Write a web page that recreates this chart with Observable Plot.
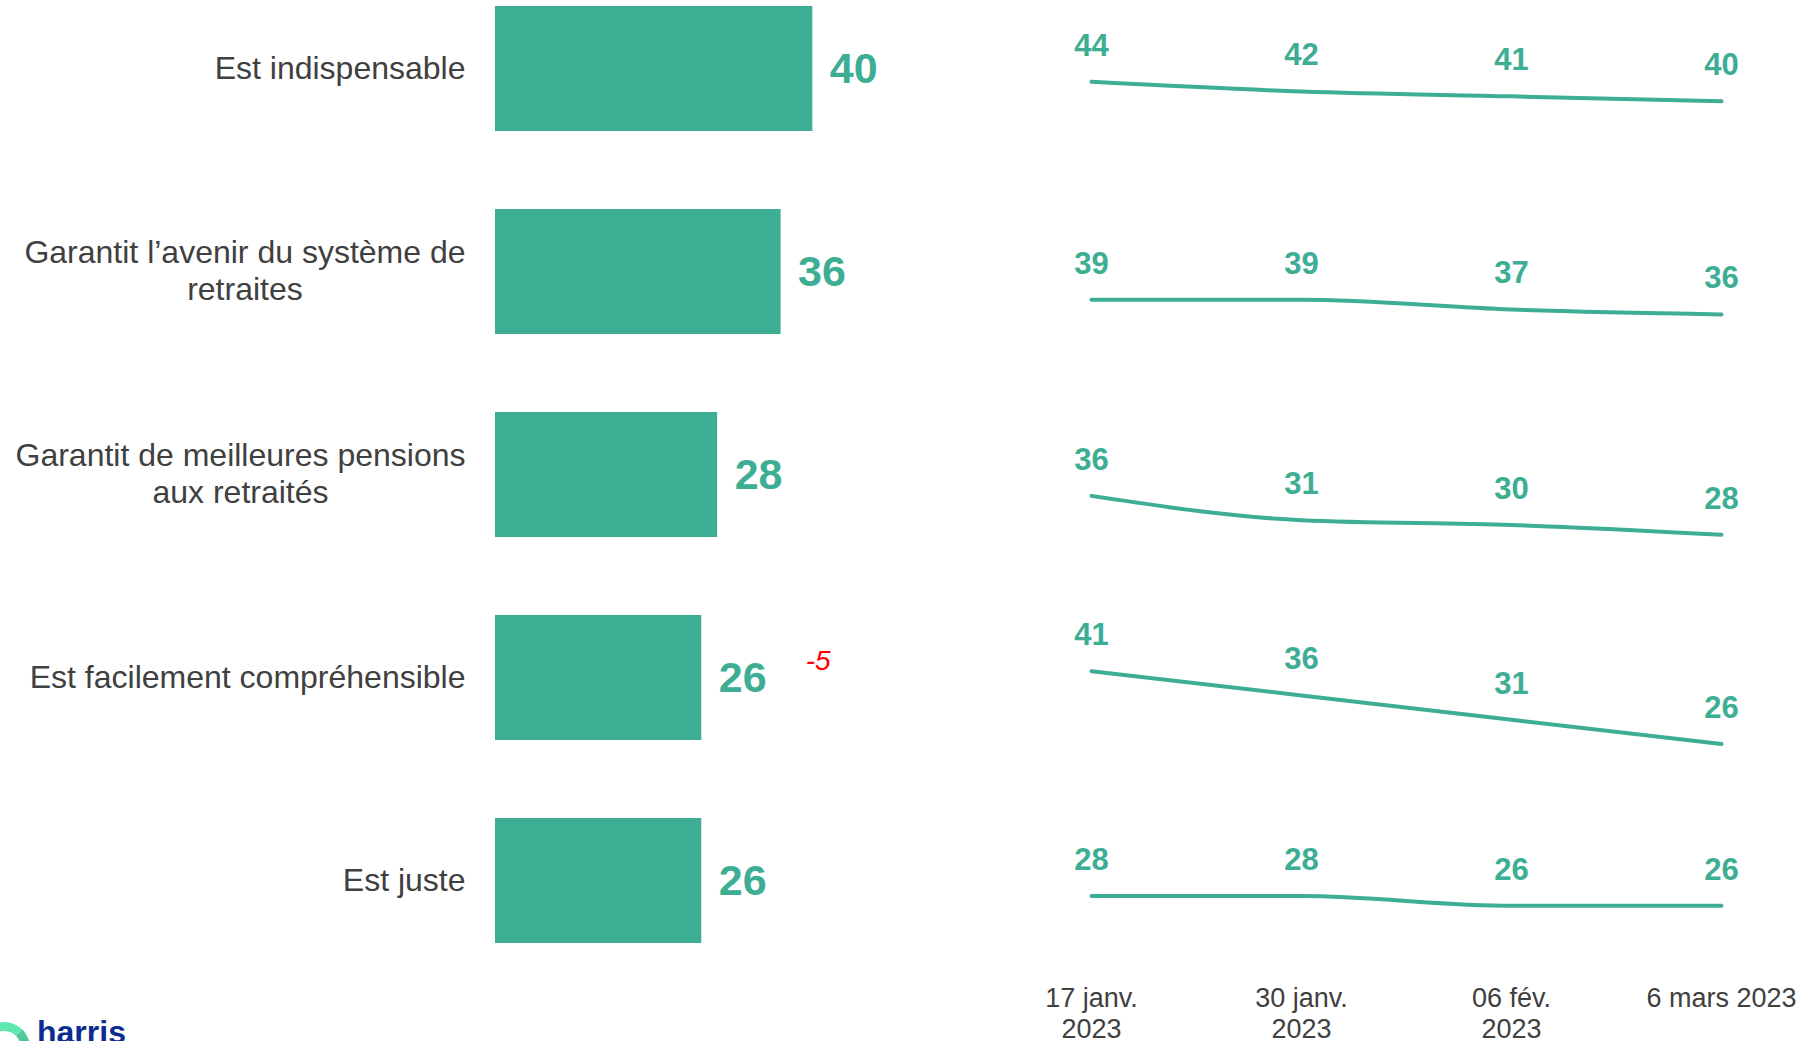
<!DOCTYPE html>
<html>
<head>
<meta charset="utf-8">
<script src="https://cdn.jsdelivr.net/npm/d3@7"></script>
<script src="https://cdn.jsdelivr.net/npm/@observablehq/plot@0.6"></script>
<style>
  html, body { margin: 0; padding: 0; background: #ffffff; }
  #root { position: relative; width: 1806px; height: 1041px; overflow: hidden; background: #fff;
          font-family: "Liberation Sans", Arial, sans-serif; }
  #bars { position: absolute; left: 0; top: 0; }
  #trends { position: absolute; left: 1000px; top: -33.5px; width: 806px; }
  #trends > svg { display: block; }
  #logo { position: absolute; left: 37px; top: 1014px; font: bold 32px "Liberation Sans", Arial, sans-serif;
          color: #0b2d8f; letter-spacing: 0px; }
  #ring { position: absolute; left: -22px; top: 1022px; width: 34px; height: 34px; border-radius: 50%;
          border: 9px solid #52c79c; border-top-color: #5ce8ae; border-left-color: transparent; }
</style>
</head>
<body>
<div id="root">
  <div id="bars"></div>
  <div id="trends"></div>
  <div id="ring"></div>
  <div id="logo">harris</div>
</div>
<script>
// ---- data ----
const categories = [
  "Est indispensable",
  "Garantit l’avenir du système de\nretraites",
  "Garantit de meilleures pensions\naux retraités",
  "Est facilement compréhensible",
  "Est juste"
];
const currentValues = [40, 36, 28, 26, 26];
const changeLabels = ["", "", "", "-5", ""];
const dates = ["17 janv.\n2023", "30 janv.\n2023", "06 fév.\n2023", "6 mars 2023"];
const trendIndispensable = [44, 42, 41, 40];
const trendAvenir = [39, 39, 37, 36];
const trendPensions = [36, 31, 30, 28];
const trendComprehensible = [41, 36, 31, 26];
const trendJuste = [28, 28, 26, 26];
const trends = [trendIndispensable, trendAvenir, trendPensions, trendComprehensible, trendJuste];

// ---- styles ----
const green = "#3DAE93";
const textGrey = "#404040";
const font = "'Liberation Sans', Arial, sans-serif";

// ---- bar chart ----
const barRows = categories.map((c, i) => ({category: c, value: currentValues[i], change: changeLabels[i]}));

const barPlot = Plot.plot({
  width: 1000,
  height: 1041,
  marginLeft: 495,
  marginRight: 29,
  marginTop: 0,
  marginBottom: 92,
  style: {fontFamily: font, background: "transparent"},
  x: {domain: [0, 60], axis: null},
  y: {domain: categories, paddingInner: 0.386, paddingOuter: 0.03, label: null},
  marks: [
    Plot.axisY({tickSize: 0, tickPadding: 30, fontSize: 32, lineHeight: 1.16, dy: -2, fill: textGrey, label: null}),
    Plot.barX(barRows, {x: "value", y: "category", fill: green}),
    Plot.text(barRows, {x: "value", y: "category", text: d => String(d.value), dx: 17, textAnchor: "start",
      fontSize: 43, fontWeight: "bold", fill: green}),
    Plot.text(barRows.filter(d => d.change), {x: "value", y: "category", text: "change", dx: 104, dy: -17,
      textAnchor: "start", fontSize: 28, fontStyle: "italic", fill: "#ff0000"})
  ]
});
document.getElementById("bars").appendChild(barPlot);

// center the wrapped lines of multi-line labels among themselves (right-aligned block)
barPlot.querySelectorAll('g[aria-label="y-axis tick label"] text').forEach(t => {
  const spans = t.querySelectorAll("tspan");
  if (spans.length > 1) {
    let w = 0;
    spans.forEach(s => { w = Math.max(w, s.getComputedTextLength()); });
    t.setAttribute("text-anchor", "middle");
    spans.forEach(s => s.setAttribute("x", -w / 2));
  }
});

// ---- trend lines (one small chart per row) ----
const rowDomains = [[25.7, 67.6], [23.8, 65.7], [19.4, 61.2], [18.7, 60.5], [10.2, 52.0]];
const trendBox = document.getElementById("trends");
trends.forEach((series, i) => {
  const pts = series.map((v, j) => ({date: dates[j], value: v}));
  const last = i === trends.length - 1;
  const p = Plot.plot({
    width: 806,
    height: last ? 203 + 70 : 203,
    marginLeft: 90,
    marginRight: 84,
    marginTop: 0,
    marginBottom: last ? 70 : 0,
    style: {fontFamily: font, background: "transparent", overflow: "visible"},
    x: {type: "point", domain: dates, padding: 0, axis: null},
    y: {domain: rowDomains[i], axis: null},
    marks: [
      Plot.line(pts, {x: "date", y: "value", stroke: green, strokeWidth: 4, curve: "monotone-x", strokeLinecap: "round"}),
      Plot.text(pts, {x: "date", y: "value", text: d => String(d.value), dy: -36, fontSize: 31, fontWeight: "bold", fill: green}),
      ...(last ? [Plot.axisX({tickSize: 0, tickPadding: 2, fontSize: 27, lineHeight: 1.15, fill: textGrey, label: null})] : [])
    ]
  });
  trendBox.appendChild(p);
});
</script>
</body>
</html>
